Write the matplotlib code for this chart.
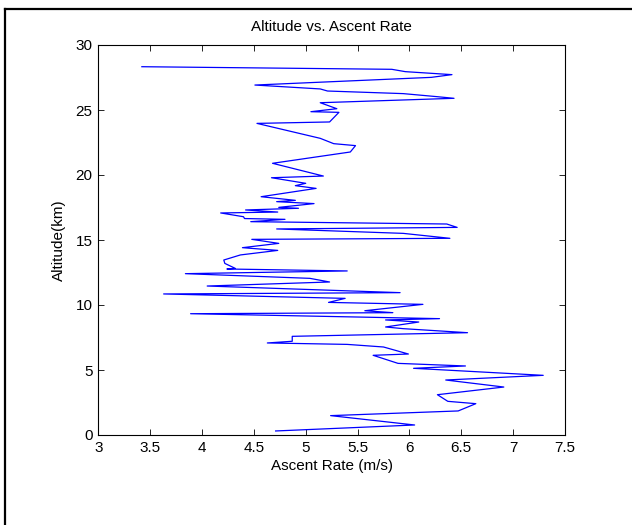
import matplotlib
matplotlib.use("Agg")
import matplotlib.pyplot as plt
from matplotlib.lines import Line2D

plt.rcParams['font.family'] = ['Liberation Sans', 'DejaVu Sans']

altitude_km = [0.31, 0.77, 1.49, 1.85, 2.41, 2.59, 3.10, 3.69, 4.23, 4.59,
               5.13, 5.31, 5.51, 6.13, 6.23, 6.77, 6.97, 7.08, 7.21, 7.59,
               7.87, 8.18, 8.31, 8.69, 8.85, 8.95, 9.33, 9.41, 9.56, 10.05,
               10.20, 10.51, 10.85, 10.95, 11.46, 11.77, 12.05, 12.41, 12.62, 12.77,
               12.82, 13.20, 13.46, 13.85, 14.20, 14.41, 14.74, 15.05, 15.13, 15.51,
               15.85, 15.97, 16.23, 16.41, 16.59, 16.65, 16.79, 17.08, 17.15, 17.31,
               17.44, 17.51, 17.80, 17.95, 18.05, 18.33, 18.97, 19.18, 19.36, 19.79,
               19.92, 20.90, 21.77, 22.26, 22.41, 22.82, 23.97, 24.08, 24.82, 24.87,
               25.10, 25.56, 25.90, 26.03, 26.26, 26.46, 26.62, 26.92, 27.51, 27.72,
               27.95, 28.13, 28.33]
ascent_rate = [4.71, 6.05, 5.24, 6.47, 6.64, 6.37, 6.27, 6.91, 6.35, 7.29,
               6.04, 6.54, 5.89, 5.65, 5.99, 5.75, 5.40, 4.63, 4.87, 4.87,
               6.56, 5.94, 5.77, 6.09, 5.77, 6.29, 3.89, 5.84, 5.57, 6.13,
               5.22, 5.38, 3.63, 5.91, 4.05, 5.23, 5.04, 3.84, 5.40, 4.24,
               4.32, 4.22, 4.21, 4.37, 4.73, 4.39, 4.74, 4.48, 6.39, 5.94,
               4.72, 6.46, 6.36, 4.47, 4.80, 4.41, 4.40, 4.18, 4.73, 4.42,
               4.93, 4.74, 5.08, 4.72, 4.90, 4.57, 5.10, 4.90, 5.00, 4.67,
               5.17, 4.68, 5.43, 5.48, 5.27, 5.14, 4.53, 5.23, 5.32, 5.05,
               5.30, 5.14, 6.43, 6.26, 5.94, 5.21, 5.14, 4.51, 6.21, 6.41,
               5.96, 5.83, 3.42]

x_ticks = [3, 3.5, 4, 4.5, 5, 5.5, 6, 6.5, 7, 7.5]
x_ticklabels = ['3', '3.5', '4', '4.5', '5', '5.5', '6', '6.5', '7', '7.5']
y_ticks = [0, 5, 10, 15, 20, 25, 30]
y_ticklabels = ['0', '5', '10', '15', '20', '25', '30']

W, H = 632, 525
fig = plt.figure(figsize=(W / 100, H / 100), dpi=100)
ax = fig.add_axes([98.3 / W, 1 - 435 / H, (565 - 98.3) / W, (435 - 45) / H])

ax.plot(ascent_rate, altitude_km, color='#0000ff', lw=0.9)
ax.set_xlim(3, 7.5)
ax.set_ylim(0, 30)
ax.set_xticks(x_ticks)
ax.set_xticklabels(x_ticklabels)
ax.set_yticks(y_ticks)
ax.set_yticklabels(y_ticklabels)
ax.tick_params(direction='in', top=True, right=True, length=4, width=0.6,
               labelsize=11, pad=4, colors='black')
for s in ax.spines.values():
    s.set_linewidth(0.8)
ax.set_title('Altitude vs. Ascent Rate', fontsize=11, pad=10)
ax.set_xlabel('Ascent Rate (m/s)', fontsize=11, labelpad=3)
ax.set_ylabel('Altitude(km)', fontsize=11, labelpad=7)

# outer frame lines (left and top)
fig.add_artist(Line2D([5 / W, 5 / W], [0, 1 - 9 / H], transform=fig.transFigure,
                      color='black', lw=1.6))
fig.add_artist(Line2D([5 / W, 1], [1 - 9 / H, 1 - 9 / H], transform=fig.transFigure,
                      color='black', lw=1.6))

fig.savefig('out.png', dpi=100)
